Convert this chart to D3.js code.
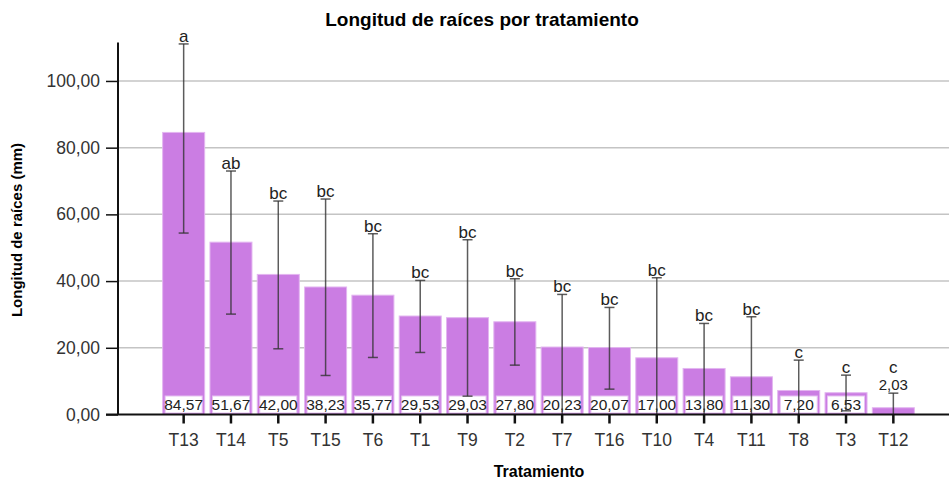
<!DOCTYPE html>
<html>
<head>
<meta charset="utf-8">
<script src="https://cdn.jsdelivr.net/npm/d3@7"></script>
<style>
  body { margin: 0; background: #fff; }
  svg { font-family: "Liberation Sans", Arial, sans-serif; display: block; }
</style>
</head>
<body>
<svg id="chart" width="949" height="482"></svg>
<script>
// treatments, sorted by mean (as in the original)
const categories = ["T13", "T14", "T5", "T15", "T6", "T1", "T9", "T2", "T7", "T16", "T10", "T4", "T11", "T8", "T3", "T12"];
const means = [84.57, 51.67, 42.00, 38.23, 35.77, 29.53, 29.03, 27.80, 20.23, 20.07, 17.00, 13.80, 11.30, 7.20, 6.53, 2.03];
const upper = [111.1, 73.0, 64.0, 64.6, 54.2, 40.2, 52.4, 40.7, 36.0, 32.1, 41.0, 27.3, 29.3, 16.3, 11.8, 6.4];
const lower = [54.4, 30.1, 19.7, 11.7, 17.1, 18.6, 5.5, 14.8, 0, 7.6, 0, 0, 0, 0, 1.1, 0];
const letters = ["a", "ab", "bc", "bc", "bc", "bc", "bc", "bc", "bc", "bc", "bc", "bc", "bc", "c", "c", "c"];
const yTicks = [0, 20, 40, 60, 80, 100];

const data = categories.map((c, i) => ({
  name: c, mean: means[i], hi: upper[i], lo: lower[i], letter: letters[i]
}));

const width = 949;
const axisX = 118;
const fmt = v => d3.format(".2f")(v).replace(".", ",");

const svg = d3.select("#chart");

const x = d3.scaleBand()
  .domain(categories)
  .range([160, 917])
  .paddingInner(0.112)
  .paddingOuter(0.056);

const y = d3.scaleLinear()
  .domain([0, 111.5])
  .range([414.5, 42.6]);

// gridlines
svg.append("g")
  .selectAll("line")
  .data(yTicks.filter(d => d > 0))
  .enter()
  .append("line")
  .attr("x1", axisX)
  .attr("x2", width)
  .attr("y1", d => y(d))
  .attr("y2", d => y(d))
  .style("stroke", "#c4c4c4")
  .style("stroke-width", 1.5);

// bars
svg.append("g")
  .selectAll("rect")
  .data(data)
  .enter()
  .append("rect")
  .attr("x", d => x(d.name))
  .attr("y", d => y(d.mean))
  .attr("width", x.bandwidth())
  .attr("height", d => y(0) - y(d.mean))
  .style("fill", "#cb7de3")
  .style("stroke", "#e3b6f0")
  .style("stroke-width", 1);

// value boxes inside the bars
const boxTop = 396;
const boxed = data.filter(d => y(d.mean) < boxTop - 3);
const labels = svg.append("g");
labels.selectAll("rect")
  .data(boxed)
  .enter()
  .append("rect")
  .attr("x", d => x(d.name) + 2.5)
  .attr("y", boxTop)
  .attr("width", x.bandwidth() - 5)
  .attr("height", y(0) - boxTop - 1.5)
  .style("fill", "#fff")
  .style("stroke", "#e6c2f2")
  .style("stroke-width", 1);

labels.selectAll("text")
  .data(boxed)
  .enter()
  .append("text")
  .attr("x", d => x(d.name) + x.bandwidth() / 2)
  .attr("y", 409.5)
  .attr("text-anchor", "middle")
  .style("font-size", "15.5px")
  .style("fill", "#222")
  .text(d => fmt(d.mean));

// error bars
const eb = svg.append("g")
  .style("stroke", "#333")
  .style("stroke-opacity", 0.8)
  .style("stroke-width", 1.5);

eb.selectAll("line.stem")
  .data(data)
  .enter()
  .append("line")
  .attr("class", "stem")
  .attr("x1", d => x(d.name) + x.bandwidth() / 2)
  .attr("x2", d => x(d.name) + x.bandwidth() / 2)
  .attr("y1", d => y(d.hi))
  .attr("y2", d => y(Math.max(d.lo, 0)));

eb.selectAll("line.top")
  .data(data)
  .enter()
  .append("line")
  .attr("class", "top")
  .attr("x1", d => x(d.name) + x.bandwidth() / 2 - 5)
  .attr("x2", d => x(d.name) + x.bandwidth() / 2 + 5)
  .attr("y1", d => y(d.hi))
  .attr("y2", d => y(d.hi));

eb.selectAll("line.bottom")
  .data(data.filter(d => d.lo > 0))
  .enter()
  .append("line")
  .attr("class", "bottom")
  .attr("x1", d => x(d.name) + x.bandwidth() / 2 - 5)
  .attr("x2", d => x(d.name) + x.bandwidth() / 2 + 5)
  .attr("y1", d => y(d.lo))
  .attr("y2", d => y(d.lo));

// value label above short bars (T12)
const unboxed = data.filter(d => y(d.mean) >= boxTop - 3);
svg.append("g")
  .selectAll("text")
  .data(unboxed)
  .enter()
  .append("text")
  .attr("x", d => x(d.name) + x.bandwidth() / 2)
  .attr("y", d => y(d.hi) - 3)
  .attr("text-anchor", "middle")
  .style("font-size", "15px")
  .style("fill", "#222")
  .text(d => fmt(d.mean));

// significance letters
svg.append("g")
  .selectAll("text")
  .data(data)
  .enter()
  .append("text")
  .attr("x", d => x(d.name) + x.bandwidth() / 2)
  .attr("y", d => unboxed.includes(d) ? y(d.hi) - 20 : y(d.hi) - 2)
  .attr("text-anchor", "middle")
  .style("font-size", "17px")
  .style("fill", "#222")
  .text(d => d.letter);

// axes
const yAxis = d3.axisLeft(y)
  .tickValues(yTicks)
  .tickSize(12)
  .tickFormat(fmt);

const gy = svg.append("g")
  .attr("transform", `translate(${axisX},0)`)
  .call(yAxis);
gy.select(".domain").remove();
gy.selectAll(".tick line").style("stroke", "#111").style("stroke-width", 1.5);
gy.selectAll(".tick text")
  .attr("x", -18)
  .style("font-size", "17.5px")
  .style("font-family", "Liberation Sans, Arial, sans-serif")
  .style("fill", "#333");

svg.append("line")
  .attr("x1", axisX).attr("x2", axisX)
  .attr("y1", y.range()[1]).attr("y2", y(0))
  .style("stroke", "#111").style("stroke-width", 2);

const xAxis = d3.axisBottom(x).tickSize(9).tickSizeOuter(0);
const gx = svg.append("g")
  .attr("transform", `translate(0,${y(0)})`)
  .call(xAxis);
gx.select(".domain").remove();
gx.selectAll(".tick line").style("stroke", "#111").style("stroke-width", 2.5);
gx.selectAll(".tick text")
  .attr("y", 19)
  .style("font-size", "17.5px")
  .style("font-family", "Liberation Sans, Arial, sans-serif")
  .style("fill", "#333");

svg.append("line")
  .attr("x1", 106).attr("x2", width)
  .attr("y1", y(0)).attr("y2", y(0))
  .style("stroke", "#111").style("stroke-width", 2);

// titles
svg.append("text")
  .attr("x", 482)
  .attr("y", 26)
  .attr("text-anchor", "middle")
  .style("font-size", "19px")
  .style("font-weight", "bold")
  .text("Longitud de raíces por tratamiento");

svg.append("text")
  .attr("x", 539)
  .attr("y", 477)
  .attr("text-anchor", "middle")
  .style("font-size", "16px")
  .style("font-weight", "bold")
  .text("Tratamiento");

svg.append("text")
  .attr("transform", "translate(22,230) rotate(-90)")
  .attr("text-anchor", "middle")
  .style("font-size", "15px")
  .style("font-weight", "bold")
  .text("Longitud de raíces (mm)");
</script>
</body>
</html>
